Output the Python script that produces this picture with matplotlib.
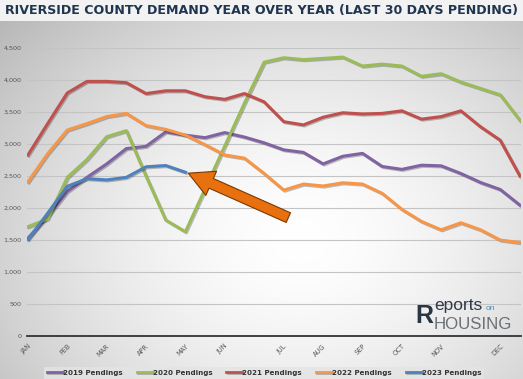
import numpy as np
import matplotlib
matplotlib.use('Agg')
import matplotlib.pyplot as plt
import matplotlib.patheffects as pe
from matplotlib.ticker import FuncFormatter, MultipleLocator

# biweekly points, Jan -> Dec
month_labels = ['JAN', 'FEB', 'MAR', 'APR', 'MAY', 'JUN', 'JUL', 'AUG', 'SEP', 'OCT', 'NOV', 'DEC']
month_pos = [0, 2, 4, 6, 8, 10, 13, 15, 17, 19, 21, 24]

p2019 = [1530, 1870, 2260, 2480, 2690, 2930, 2965, 3190, 3140, 3100, 3180, 3110, 3020,
         2910, 2870, 2690, 2810, 2855, 2650, 2605, 2670, 2660, 2540, 2400, 2290, 2045]
p2020 = [1710, 1830, 2480, 2760, 3115, 3210, 2500, 1813, 1630, 2300, 2970, 3640, 4280,
         4350, 4320, 4340, 4360, 4220, 4250, 4220, 4060, 4100, 3970, 3870, 3770, 3370]
p2021 = [2830, 3320, 3800, 3980, 3980, 3960, 3790, 3833, 3833, 3740, 3700, 3790, 3660,
         3350, 3300, 3420, 3490, 3470, 3480, 3520, 3390, 3430, 3520, 3270, 3060, 2500]
p2022 = [2410, 2850, 3220, 3320, 3430, 3480, 3290, 3230, 3140, 2990, 2830, 2780, 2540,
         2280, 2375, 2345, 2395, 2375, 2230, 1980, 1790, 1660, 1770, 1660, 1500, 1460]
p2023 = [1510, 1920, 2340, 2460, 2440, 2480, 2645, 2665, 2560]

series = [('2019 Pendings', p2019, '#8064A2'),
          ('2020 Pendings', p2020, '#9BBB59'),
          ('2021 Pendings', p2021, '#C0504D'),
          ('2022 Pendings', p2022, '#F79646'),
          ('2023 Pendings', p2023, '#4F81BD')]

fig = plt.figure(figsize=(5.23, 3.79), dpi=100)

# background gradient (light centre, grey edges)
bg = fig.add_axes([0, 0, 1, 1], zorder=-10)
yy, xx = np.mgrid[0:379, 0:523]
d = np.sqrt(((xx - 300) / 330.0) ** 2 + ((yy - 240) / 260.0) ** 2)
shade = 1.0 - 0.2 * np.clip(d, 0, 1.3) ** 1.6
shade[:21, :] = 0.95
img = np.dstack([shade, shade, shade])
bg.imshow(img, aspect='auto', extent=[0, 1, 0, 1])
bg.set_axis_off()

fig.text(0.5, 0.972, 'RIVERSIDE COUNTY DEMAND YEAR OVER YEAR (LAST 30 DAYS PENDING)',
         ha='center', va='center', fontsize=9.05, fontweight='bold', color='#1F3550')

ax = fig.add_axes([0.0516, 0.1135, 0.9444, 0.7595])
ax.patch.set_alpha(0)
for name, vals, col in series:
    ax.plot(np.arange(len(vals)), vals, color=col, lw=2.2, label=name, solid_joinstyle='round',
            path_effects=[pe.SimpleLineShadow(offset=(0.8, -0.8), alpha=0.25), pe.Normal()])

ax.set_xlim(-0.05, 25.05)
ax.set_ylim(0, 4500)
ax.yaxis.set_major_locator(MultipleLocator(500))
ax.yaxis.set_major_formatter(FuncFormatter(lambda v, p: f'{int(v):,}'))
ax.grid(axis='y', color='#c4c4c4', lw=0.8)
ax.set_axisbelow(True)
for s in ['top', 'right', 'left']:
    ax.spines[s].set_visible(False)
ax.spines['bottom'].set_color('#333333')
ax.spines['bottom'].set_linewidth(1.3)
ax.tick_params(axis='y', length=0, labelsize=4.6, labelcolor='#555555', pad=4)
ax.set_xticks(month_pos)
ax.set_xticklabels(month_labels)
ax.tick_params(axis='x', length=0, labelsize=4.8, labelcolor='#555555', pad=5)
for t in ax.get_xticklabels():
    t.set_rotation(45)
    t.set_ha('right')
    t.set_va('top')
    t.set_rotation_mode('anchor')

# arrow pointing at latest 2023 value
ax.annotate('', xy=(len(p2023) - 1 + 0.15, p2023[-1] - 15), xytext=(72, -32),
            textcoords='offset points',
            arrowprops=dict(arrowstyle='simple,head_length=0.9,head_width=0.95,tail_width=0.38',
                            mutation_scale=20, fc='#E8700E', ec='#7A3800', lw=0.8,
                            shrinkA=0, shrinkB=0))

# logo
fig.text(0.795, 0.148, 'R', fontsize=18, fontweight='bold', color='#2b3644', ha='left',
         va='baseline', family='Liberation Sans')
fig.text(0.830, 0.182, 'eports', fontsize=12.5, color='#2f3a48', ha='left', va='baseline',
         family='Liberation Sans')
fig.text(0.928, 0.182, 'on', fontsize=6, color='#3f8fb8', ha='left', va='baseline',
         family='Liberation Sans')
fig.text(0.830, 0.131, 'HOUSING', fontsize=12.2, color='#6b7076', ha='left', va='baseline',
         family='Liberation Sans')

leg = fig.legend(loc='lower center', bbox_to_anchor=(0.505, 0.0), ncol=5,
                 frameon=True, handlelength=2.25, handletextpad=0.0, columnspacing=2.0,
                 borderpad=0.45, borderaxespad=0, prop={'size': 5.1, 'weight': 'bold'})
leg.get_frame().set_facecolor('#e4e4e4')
leg.get_frame().set_edgecolor('none')
leg.get_frame().set_boxstyle('square', pad=0)
for t in leg.get_texts():
    t.set_color('#333333')
for h in leg.get_lines():
    h.set_linewidth(2.0)

fig.savefig('out.png', dpi=100)
